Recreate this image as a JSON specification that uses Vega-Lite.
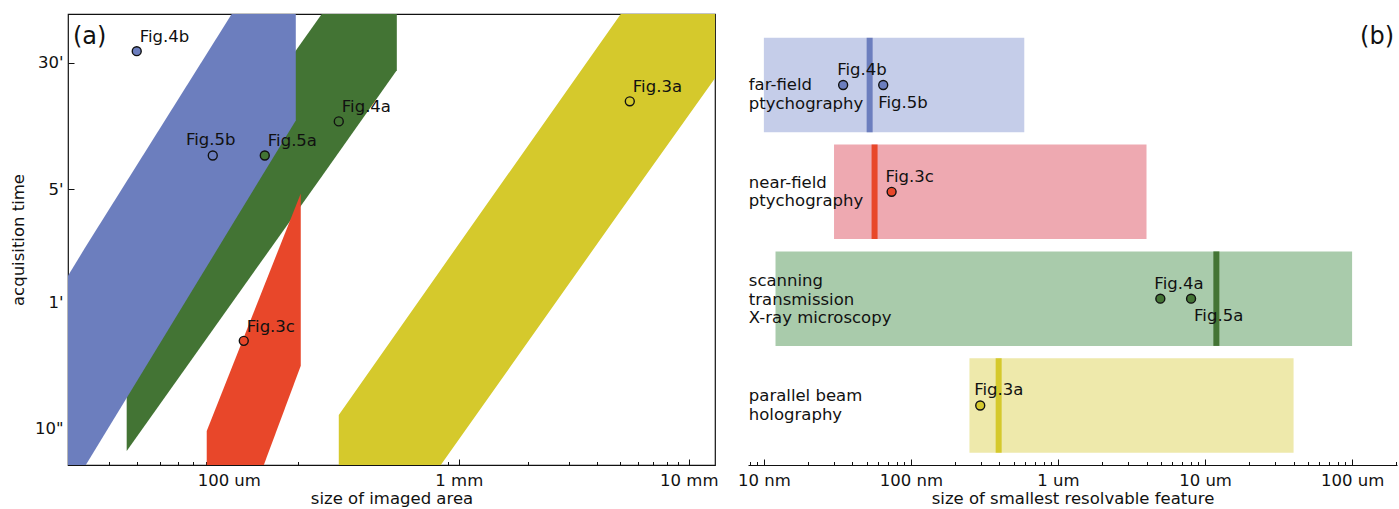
{
  "$schema": "https://vega.github.io/schema/vega-lite/v6.json",
  "padding": {"left": 9, "top": 13, "right": 2, "bottom": 2},
  "spacing": 18,
  "config": {
    "font": "DejaVu Sans",
    "view": {"stroke": null},
    "axis": {"labelFont": "DejaVu Sans", "titleFont": "DejaVu Sans", "labelFontSize": 16.5, "titleFontSize": 16.5, "titleFontWeight": "normal", "labelColor": "#111", "titleColor": "#111", "tickColor": "#111", "domainColor": "#111", "grid": false, "labelFlush": false, "labelOverlap": false},
    "text": {"font": "DejaVu Sans", "fontSize": 16.5, "color": "#111"}
  },
  "datasets": {
    "bands": [
      {"tech": "far-field", "x": 20, "y": 88.0, "y2": 6},
      {"tech": "far-field", "x": 23.9, "y": 132.9, "y2": 6},
      {"tech": "far-field", "x": 103, "y": 3600, "y2": 179},
      {"tech": "far-field", "x": 195.6, "y": 3600, "y2": 796},
      {"tech": "STXM", "x": 36.0, "y": 73.1, "y2": 7.31},
      {"tech": "STXM", "x": 253.7, "y": 3600, "y2": 359.4},
      {"tech": "STXM", "x": 537.6, "y": 3600, "y2": 1622},
      {"tech": "near-field", "x": 80.2, "y": 9.72, "y2": 6},
      {"tech": "near-field", "x": 142, "y": 75.2, "y2": 6},
      {"tech": "near-field", "x": 205.6, "y": 282.2, "y2": 24.5},
      {"tech": "holography", "x": 300.8, "y": 12.2, "y2": 6},
      {"tech": "holography", "x": 835, "y": 95.8, "y2": 6},
      {"tech": "holography", "x": 5062, "y": 3600, "y2": 221.7},
      {"tech": "holography", "x": 13000, "y": 3600, "y2": 1447}
    ],
    "leftpts": [
      {"fig": "Fig.4b", "tech": "far-field", "x": 39.8, "y": 2124},
      {"fig": "Fig.5b", "tech": "far-field", "x": 85.2, "y": 484},
      {"fig": "Fig.5a", "tech": "STXM", "x": 143.4, "y": 484},
      {"fig": "Fig.4a", "tech": "STXM", "x": 300.8, "y": 785},
      {"fig": "Fig.3a", "tech": "holography", "x": 5540, "y": 1043},
      {"fig": "Fig.3c", "tech": "near-field", "x": 116.2, "y": 34.9}
    ],
    "leftpanel": [
      {"label": "(a)", "x": 20, "y": 3600}
    ],
    "bars": [
      {"tech": "far-field", "x": 10, "x2": 590},
      {"tech": "near-field", "x": 30, "x2": 4000},
      {"tech": "STXM", "x": 12, "x2": 100000},
      {"tech": "holography", "x": 250, "x2": 40000}
    ],
    "res": [
      {"tech": "far-field", "x": 52.4},
      {"tech": "near-field", "x": 56.6},
      {"tech": "STXM", "x": 11940},
      {"tech": "holography", "x": 395}
    ],
    "rightpts": [
      {"fig": "Fig.4b", "tech": "far-field", "x": 34.6},
      {"fig": "Fig.5b", "tech": "far-field", "x": 64.8},
      {"fig": "Fig.3c", "tech": "near-field", "x": 73.9},
      {"fig": "Fig.4a", "tech": "STXM", "x": 4966},
      {"fig": "Fig.5a", "tech": "STXM", "x": 8035},
      {"fig": "Fig.3a", "tech": "holography", "x": 296}
    ],
    "methods": [
      {"tech": "far-field", "x": 7.9, "lines": ["far-field", "ptychography"]},
      {"tech": "near-field", "x": 7.9, "lines": ["near-field", "ptychography"]},
      {"tech": "STXM", "x": 7.9, "lines": ["scanning", "transmission", "X-ray microscopy"]},
      {"tech": "holography", "x": 7.9, "lines": ["parallel beam", "holography"]}
    ],
    "rightpanel": [
      {"label": "(b)", "x": 202000, "tech": "far-field"}
    ]
  },
  "hconcat": [
    {
      "width": 647,
      "height": 451,
      "view": {"stroke": "#111", "strokeWidth": 1.2},
      "encoding": {
        "x": {"field": "x", "type": "quantitative",
          "scale": {"type": "log", "domain": [20, 13000], "nice": false},
          "axis": {"title": "size of imaged area", "domain": false,
            "values": [30,40,50,60,70,80,90,100,200,300,400,500,600,700,800,900,1000,2000,3000,4000,5000,6000,7000,8000,9000,10000],
            "labelExpr": "datum.value == 100 ? '100 um' : datum.value == 1000 ? '1 mm' : datum.value == 10000 ? '10 mm' : ''",
            "tickSize": {"condition": {"test": "datum.value == 100 || datum.value == 1000 || datum.value == 10000", "value": -6}, "value": -3.5},
            "labelPadding": 13, "titleY": 38, "titleBaseline": "alphabetic"}},
        "y": {"field": "y", "type": "quantitative",
          "scale": {"type": "log", "domain": [6, 3600], "nice": false},
          "axis": {"title": "acquisition time", "domain": false,
            "values": [10, 60, 300, 1800],
            "labelExpr": "datum.value == 10 ? '10\"' : datum.value == 60 ? \"1'\" : datum.value == 300 ? \"5'\" : \"30'\"",
            "tickSize": -6, "labelPadding": 11, "titleX": -45, "titleAngle": 270, "titleBaseline": "alphabetic"}}
      },
      "layer": [
        {"data": {"name": "bands"}, "transform": [{"filter": "datum.tech == 'STXM'"}],
          "mark": {"type": "area", "color": "#437434", "clip": true},
          "encoding": {"y2": {"field": "y2"}}},
        {"data": {"name": "bands"}, "transform": [{"filter": "datum.tech == 'far-field'"}],
          "mark": {"type": "area", "color": "#6c7ebe", "clip": true},
          "encoding": {"y2": {"field": "y2"}}},
        {"data": {"name": "bands"}, "transform": [{"filter": "datum.tech == 'near-field'"}],
          "mark": {"type": "area", "color": "#e8472a", "clip": true},
          "encoding": {"y2": {"field": "y2"}}},
        {"data": {"name": "bands"}, "transform": [{"filter": "datum.tech == 'holography'"}],
          "mark": {"type": "area", "color": "#d5c92c", "clip": true},
          "encoding": {"y2": {"field": "y2"}}},
        {"data": {"name": "leftpts"},
          "mark": {"type": "circle", "size": 80, "stroke": "#111", "strokeWidth": 1.4, "opacity": 1},
          "encoding": {"color": {"field": "tech", "type": "nominal",
            "scale": {"domain": ["far-field", "near-field", "STXM", "holography"], "range": ["#6c7ebe", "#e8472a", "#437434", "#d5c92c"]}, "legend": null}}},
        {"data": {"name": "leftpts"}, "transform": [{"filter": "datum.fig != 'Fig.5b'"}],
          "mark": {"type": "text", "align": "left", "baseline": "alphabetic", "dx": 3, "dy": -9, "fontSize": 16.5, "color": "#111"},
          "encoding": {"text": {"field": "fig"}}},
        {"data": {"name": "leftpts"}, "transform": [{"filter": "datum.fig == 'Fig.5b'"}],
          "mark": {"type": "text", "align": "center", "baseline": "alphabetic", "dx": -2, "dy": -10, "fontSize": 16.5, "color": "#111"},
          "encoding": {"text": {"field": "fig"}}},
        {"data": {"name": "leftpanel"},
          "mark": {"type": "text", "align": "left", "baseline": "alphabetic", "dx": 5, "dy": 30, "fontSize": 24, "color": "#111"},
          "encoding": {"text": {"field": "label"}}}
      ]
    },
    {
      "width": 649,
      "height": 451,
      "view": {"stroke": null},
      "encoding": {
        "x": {"field": "x", "type": "quantitative",
          "scale": {"type": "log", "domain": [7.8, 202000], "nice": false},
          "axis": {"title": "size of smallest resolvable feature", "domain": true,
            "values": [8,9,10,20,30,40,50,60,70,80,90,100,200,300,400,500,600,700,800,900,1000,2000,3000,4000,5000,6000,7000,8000,9000,10000,20000,30000,40000,50000,60000,70000,80000,90000,100000,200000],
            "labelExpr": "datum.value == 10 ? '10 nm' : datum.value == 100 ? '100 nm' : datum.value == 1000 ? '1 um' : datum.value == 10000 ? '10 um' : datum.value == 100000 ? '100 um' : ''",
            "tickSize": {"condition": {"test": "datum.value == 10 || datum.value == 100 || datum.value == 1000 || datum.value == 10000 || datum.value == 100000", "value": -6}, "value": -3.5},
            "labelPadding": 13, "titleY": 38, "titleBaseline": "alphabetic"}},
        "y": {"field": "tech", "type": "nominal",
          "scale": {"domain": ["far-field", "near-field", "STXM", "holography"], "paddingInner": 0.115, "paddingOuter": 0.1685, "align": 0.66},
          "axis": null}
      },
      "layer": [
        {"data": {"name": "bars"},
          "mark": {"type": "rect"},
          "encoding": {"x2": {"field": "x2"},
            "fill": {"field": "tech", "type": "nominal",
              "scale": {"domain": ["far-field", "near-field", "STXM", "holography"], "range": ["#c5cde9", "#eea9b1", "#a9cbab", "#eee9ab"]}, "legend": null}}},
        {"data": {"name": "res"},
          "mark": {"type": "tick", "thickness": 6, "size": 94.5, "opacity": 1},
          "encoding": {"color": {"field": "tech", "type": "nominal",
            "scale": {"domain": ["far-field", "near-field", "STXM", "holography"], "range": ["#6c7ebe", "#e8472a", "#437434", "#d5c92c"]}, "legend": null}}},
        {"data": {"name": "rightpts"},
          "mark": {"type": "circle", "size": 80, "stroke": "#111", "strokeWidth": 1.4, "opacity": 1},
          "encoding": {"color": {"field": "tech", "type": "nominal",
            "scale": {"domain": ["far-field", "near-field", "STXM", "holography"], "range": ["#6c7ebe", "#e8472a", "#437434", "#d5c92c"]}, "legend": null}}},
        {"data": {"name": "rightpts"}, "transform": [{"filter": "datum.fig != 'Fig.5b' && datum.fig != 'Fig.5a'"}],
          "mark": {"type": "text", "align": "left", "baseline": "alphabetic", "dx": -6, "dy": -10, "fontSize": 16.5, "color": "#111"},
          "encoding": {"text": {"field": "fig"}}},
        {"data": {"name": "rightpts"}, "transform": [{"filter": "datum.fig == 'Fig.5b'"}],
          "mark": {"type": "text", "align": "left", "baseline": "alphabetic", "dx": -5, "dy": 23, "fontSize": 16.5, "color": "#111"},
          "encoding": {"text": {"field": "fig"}}},
        {"data": {"name": "rightpts"}, "transform": [{"filter": "datum.fig == 'Fig.5a'"}],
          "mark": {"type": "text", "align": "left", "baseline": "alphabetic", "dx": 3, "dy": 22, "fontSize": 16.5, "color": "#111"},
          "encoding": {"text": {"field": "fig"}}},
        {"data": {"name": "methods"}, "transform": [{"filter": "datum.tech == 'far-field'"}],
          "mark": {"type": "text", "align": "left", "baseline": "alphabetic", "dy": 5, "lineHeight": 18.5, "fontSize": 16.5, "color": "#111"},
          "encoding": {"text": {"field": "lines"}}},
        {"data": {"name": "methods"}, "transform": [{"filter": "datum.tech == 'near-field' || datum.tech == 'holography'"}],
          "mark": {"type": "text", "align": "left", "baseline": "alphabetic", "dy": -4, "lineHeight": 18.5, "fontSize": 16.5, "color": "#111"},
          "encoding": {"text": {"field": "lines"}}},
        {"data": {"name": "methods"}, "transform": [{"filter": "datum.tech == 'STXM'"}],
          "mark": {"type": "text", "align": "left", "baseline": "alphabetic", "dy": -12.5, "lineHeight": 18.5, "fontSize": 16.5, "color": "#111"},
          "encoding": {"text": {"field": "lines"}}},
        {"data": {"name": "rightpanel"},
          "mark": {"type": "text", "align": "right", "baseline": "alphabetic", "dx": -3, "dy": -41, "fontSize": 24, "color": "#111"},
          "encoding": {"text": {"field": "label"}}}
      ]
    }
  ]
}
